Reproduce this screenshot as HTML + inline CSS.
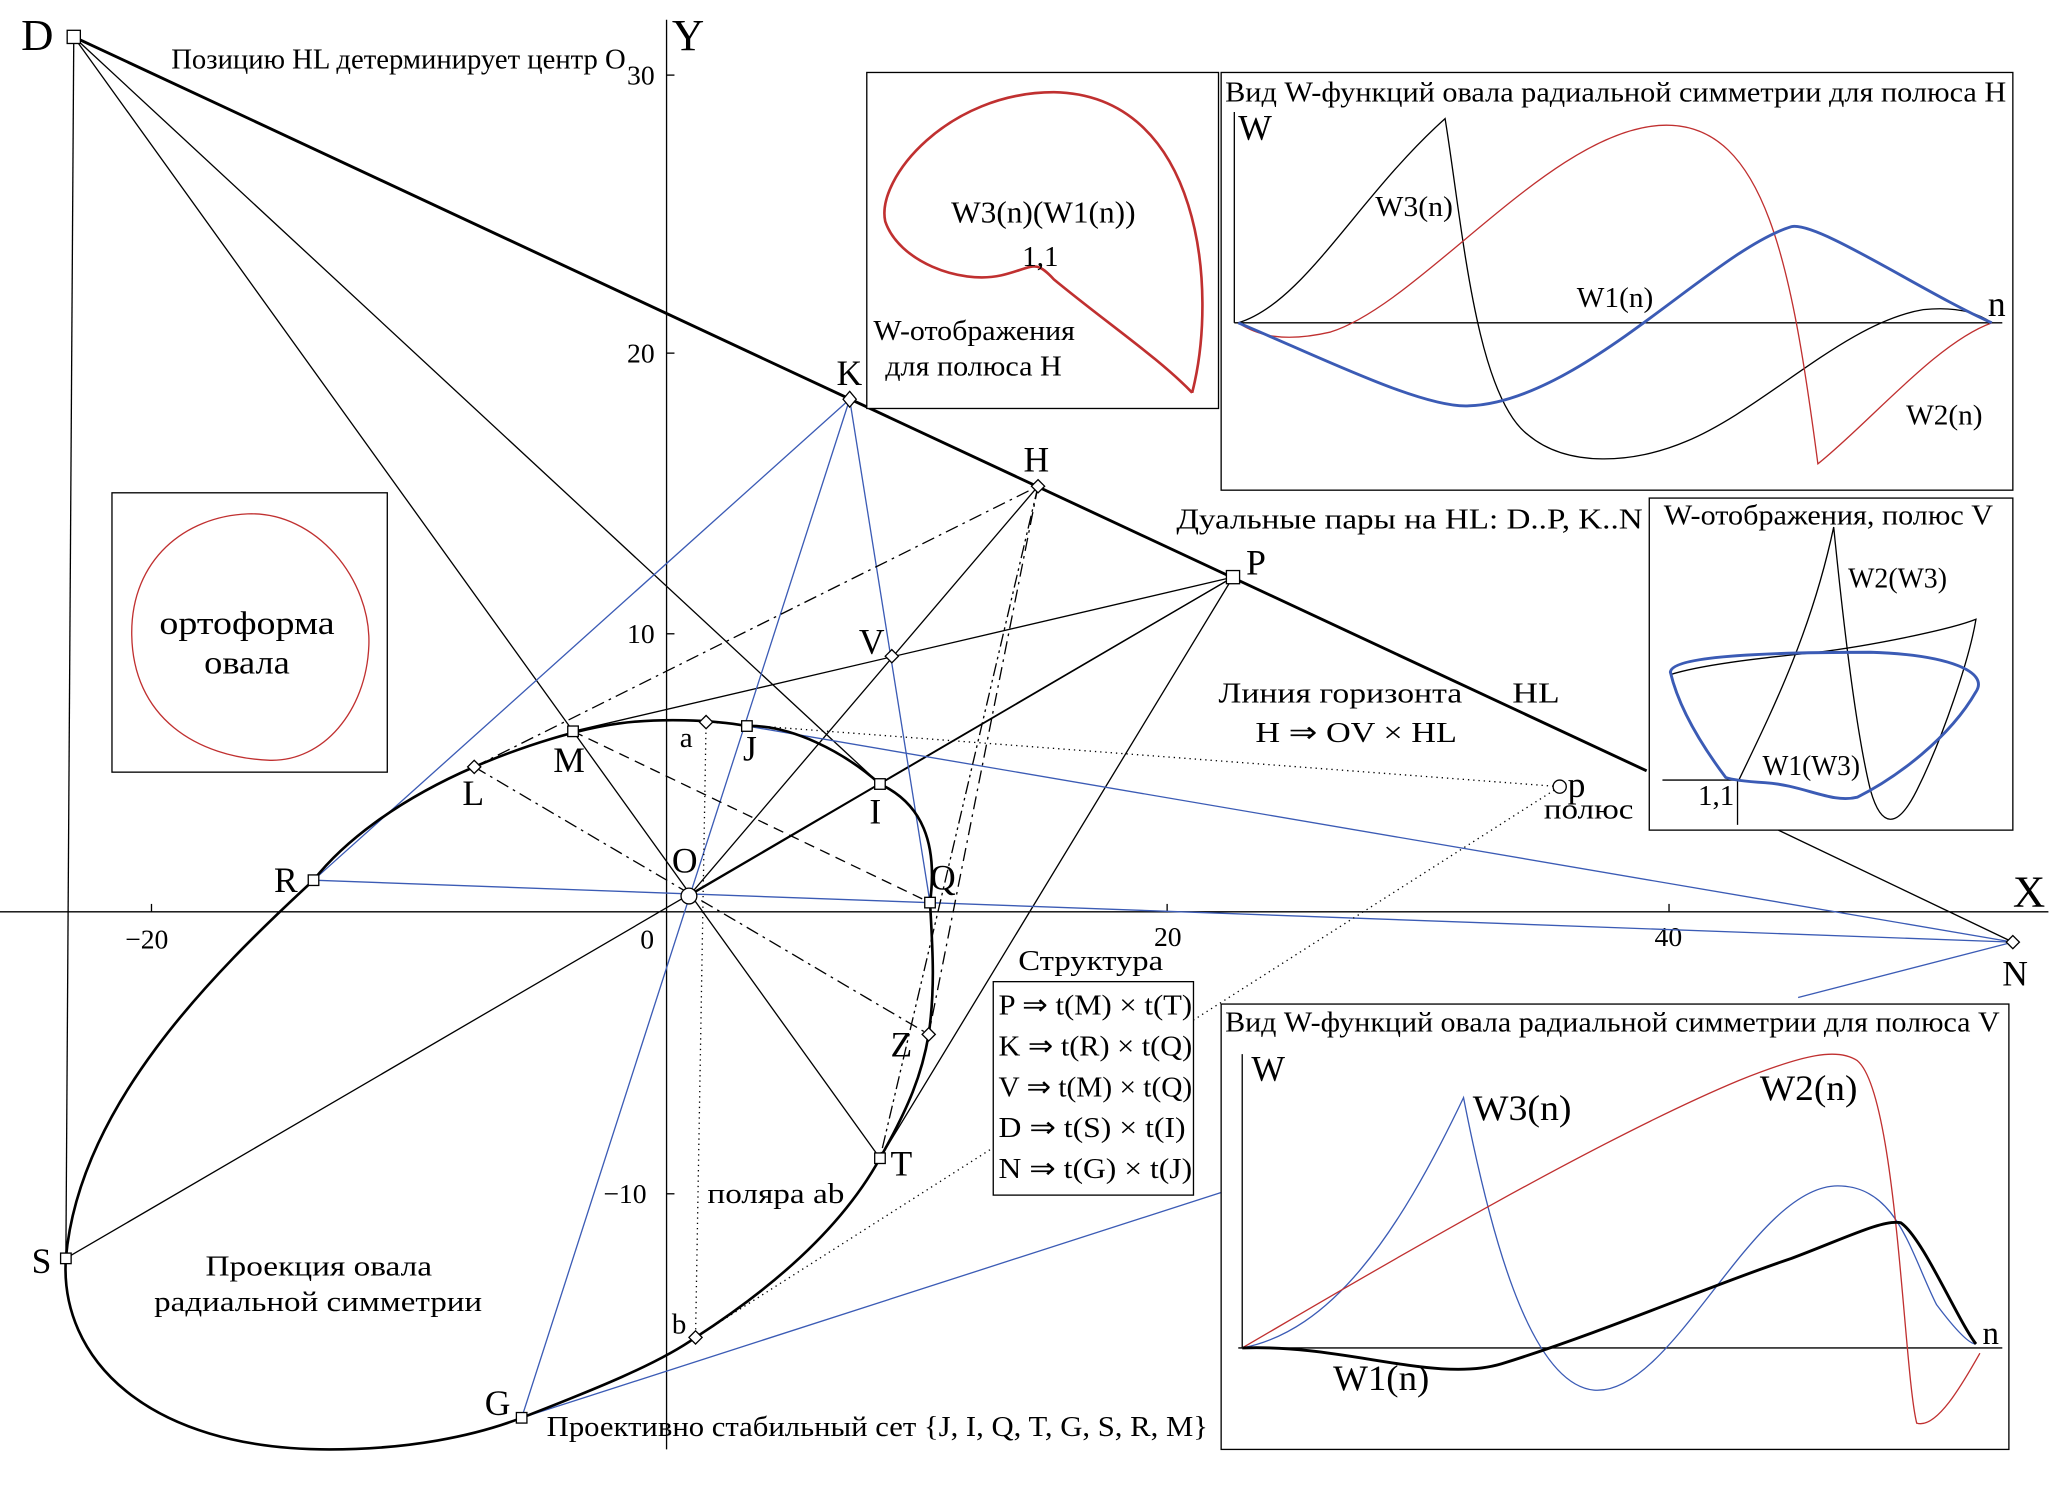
<!DOCTYPE html>
<html><head><meta charset="utf-8"><style>
html,body{margin:0;padding:0;background:#fff}
svg{display:block}
text{font-family:"Liberation Serif",serif;fill:#000}
</style></head><body>
<svg width="2055" height="1485" viewBox="0 0 1560 1127" preserveAspectRatio="none" xmlns="http://www.w3.org/2000/svg">
<rect width="1560" height="1127" fill="#fff"/>
<g stroke="#000" stroke-width="1" fill="none">
<line x1="0" y1="692" x2="1555" y2="692"/>
<line x1="506" y1="15" x2="506" y2="1100"/>
<line x1="115" y1="692" x2="115" y2="686"/><line x1="886" y1="692" x2="886" y2="686"/><line x1="1267" y1="692" x2="1267" y2="686"/>
<line x1="506" y1="57" x2="512" y2="57"/><line x1="506" y1="268" x2="512" y2="268"/><line x1="506" y1="481" x2="512" y2="481"/><line x1="506" y1="906" x2="512" y2="906"/>
</g>
<g font-size="21">
<text x="95" y="720">−20</text><text x="486" y="720">0</text><text x="876" y="718">20</text><text x="1256" y="718">40</text>
<text x="476" y="64">30</text><text x="476" y="275">20</text><text x="476" y="488">10</text><text x="458" y="913">−10</text>
</g>
<text x="1528" y="688" font-size="34">X</text>
<text x="510" y="38" font-size="34">Y</text>
<line x1="56" y1="28" x2="1250" y2="585" stroke="#000" stroke-width="2.2"/>
<line x1="1350" y1="630" x2="1528" y2="715" stroke="#000" stroke-width="1"/>
<g stroke="#000" stroke-width="1" fill="none">
<line x1="56" y1="28" x2="50" y2="955"/>
<line x1="56" y1="28" x2="435" y2="555"/>
<line x1="56" y1="28" x2="668" y2="595"/>
<line x1="50" y1="955" x2="936" y2="438"/>
<line x1="668" y1="879" x2="936" y2="438"/>
<line x1="435" y1="555" x2="936" y2="438"/>
<line x1="523" y1="680" x2="936" y2="438"/>
<line x1="523" y1="680" x2="788" y2="369"/>
<line x1="435" y1="555" x2="668" y2="879"/>
</g>
<g stroke="#3b5bb5" stroke-width="1" fill="none">
<line x1="645" y1="303" x2="706" y2="685"/>
<line x1="238" y1="668" x2="645" y2="303"/>
<line x1="396" y1="1076" x2="645" y2="303"/>
<line x1="238" y1="668" x2="1528" y2="715"/>
<line x1="567" y1="551" x2="1528" y2="715"/>
<line x1="396" y1="1076" x2="927" y2="905"/>
<line x1="1528" y1="715" x2="1365" y2="757"/>
</g>
<g stroke="#000" stroke-width="1" fill="none">
<line x1="360" y1="582" x2="788" y2="369" stroke-dasharray="10,4,2,4"/>
<line x1="788" y1="369" x2="705" y2="785" stroke-dasharray="10,4,2,4"/>
<line x1="788" y1="369" x2="668" y2="879" stroke-dasharray="10,3,2,3,2,3"/>
<line x1="360" y1="582" x2="705" y2="785" stroke-dasharray="10,4,2,4"/>
<line x1="435" y1="555" x2="706" y2="685" stroke-dasharray="8,5"/>
<line x1="536" y1="548" x2="528" y2="1015" stroke-dasharray="1,3"/>
<line x1="536" y1="548" x2="1184" y2="597" stroke-dasharray="1,3"/>
<line x1="528" y1="1015" x2="1184" y2="597" stroke-dasharray="1,3"/>
</g>
<path d="M706,685 C712,640 700,610 668,595 C640,570 600,550 567,551 C540,546 500,545 470,549 C440,553 400,565 360,582 C300,608 260,640 238,668 C160,740 60,840 50,955 C45,1030 110,1100 250,1100 C310,1100 360,1090 396,1076 C450,1055 500,1035 528,1015 C590,975 640,930 668,879 C690,840 700,815 705,785 C710,750 708,720 706,685 Z" fill="none" stroke="#000" stroke-width="2"/>
<g fill="#fff" stroke="#000" stroke-width="1">
<rect x="51" y="23" width="10" height="10"/>
<rect x="931" y="433" width="10" height="10"/>
<rect x="431" y="551" width="8" height="8"/>
<rect x="234" y="664" width="8" height="8"/>
<rect x="46" y="951" width="8" height="8"/>
<rect x="392" y="1072" width="8" height="8"/>
<rect x="664" y="875" width="8" height="8"/>
<rect x="702" y="681" width="8" height="8"/>
<rect x="664" y="591" width="8" height="8"/>
<rect x="563" y="547" width="8" height="8"/>
<path d="M645,297 l5,6 -5,6 -5,-6z"/>
<path d="M788,364 l5,5 -5,5 -5,-5z"/>
<path d="M677,493 l5,5 -5,5 -5,-5z"/>
<path d="M360,577 l5,5 -5,5 -5,-5z"/>
<path d="M536,543 l5,5 -5,5 -5,-5z"/>
<path d="M528,1010 l5,5 -5,5 -5,-5z"/>
<path d="M705,780 l5,5 -5,5 -5,-5z"/>
<path d="M1528,710 l5,5 -5,5 -5,-5z"/>
<circle cx="523" cy="680" r="6"/>
<circle cx="1184" cy="597" r="5"/>
</g>
<g font-size="27">
<text x="16" y="38" font-size="34">D</text>
<text x="635" y="292">K</text><text x="777" y="358">H</text><text x="946" y="436">P</text>
<text x="652" y="496">V</text><text x="420" y="586">M</text><text x="351" y="611">L</text>
<text x="208" y="677">R</text><text x="24" y="966">S</text><text x="368" y="1074">G</text>
<text x="676" y="892">T</text><text x="676" y="802">Z</text><text x="706" y="675">Q</text>
<text x="660" y="625">I</text><text x="564" y="577">J</text><text x="510" y="662">O</text>
<text x="1520" y="748">N</text><text x="1190" y="605">p</text>
</g>
<g font-size="22">
<text x="516" y="567">a</text><text x="510" y="1012">b</text>
<text x="130" y="52" textLength="345" lengthAdjust="spacingAndGlyphs">Позицию HL детерминирует центр O</text>
<text x="893" y="401" textLength="354" lengthAdjust="spacingAndGlyphs">Дуальные пары на HL: D..P, K..N</text>
<text x="925" y="533" textLength="185" lengthAdjust="spacingAndGlyphs">Линия горизонта</text><text x="1148" y="533" textLength="36" lengthAdjust="spacingAndGlyphs">HL</text>
<text x="953" y="563" textLength="153" lengthAdjust="spacingAndGlyphs">H ⇒ OV × HL</text>
<text x="1172" y="621" textLength="68" lengthAdjust="spacingAndGlyphs">полюс</text>
<text x="537" y="913" textLength="104" lengthAdjust="spacingAndGlyphs">поляра ab</text>
<text x="156" y="968" textLength="172" lengthAdjust="spacingAndGlyphs">Проекция овала</text>
<text x="117" y="995" textLength="249" lengthAdjust="spacingAndGlyphs">радиальной симметрии</text>
<text x="415" y="1090" textLength="502" lengthAdjust="spacingAndGlyphs">Проективно стабильный сет {J, I, Q, T, G, S, R, M}</text>
<text x="773" y="736" textLength="110" lengthAdjust="spacingAndGlyphs">Структура</text>
</g>
<rect x="754" y="745" width="152" height="162" fill="#fff" stroke="#000"/>
<g font-size="22">
<text x="758" y="770" textLength="147" lengthAdjust="spacingAndGlyphs">P ⇒ t(M) × t(T)</text>
<text x="758" y="801" textLength="147" lengthAdjust="spacingAndGlyphs">K ⇒ t(R) × t(Q)</text>
<text x="758" y="832" textLength="147" lengthAdjust="spacingAndGlyphs">V ⇒ t(M) × t(Q)</text>
<text x="758" y="863" textLength="142" lengthAdjust="spacingAndGlyphs">D ⇒ t(S) × t(I)</text>
<text x="758" y="894" textLength="147" lengthAdjust="spacingAndGlyphs">N ⇒ t(G) × t(J)</text>
</g>
<rect x="85" y="374" width="209" height="212" fill="#fff" stroke="#000"/>
<path d="M188,390 C240,388 282,440 280,490 C278,540 245,578 205,577 C150,575 100,545 100,480 C100,425 140,392 188,390 Z" fill="none" stroke="#c03030"/>
<text x="121" y="481" font-size="25" textLength="133" lengthAdjust="spacingAndGlyphs">ортоформа</text>
<text x="155" y="511" font-size="25" textLength="65" lengthAdjust="spacingAndGlyphs">овала</text>
<rect x="658" y="55" width="267" height="255" fill="#fff" stroke="#000"/>
<path d="M905,298 C925,220 912,72 800,70 C720,70 665,135 672,168 C682,198 728,216 760,209 C785,203 785,196 800,212 C840,245 880,272 905,298" fill="none" stroke="#c03030" stroke-width="2"/>
<text x="722" y="169" font-size="23" textLength="140" lengthAdjust="spacingAndGlyphs">W3(n)(W1(n))</text>
<text x="776" y="202" font-size="22">1,1</text>
<text x="663" y="258" font-size="22" textLength="153" lengthAdjust="spacingAndGlyphs">W-отображения</text>
<text x="672" y="285" font-size="22" textLength="134" lengthAdjust="spacingAndGlyphs">для полюса H</text>
<rect x="927" y="55" width="601" height="317" fill="#fff" stroke="#000"/>
<text x="930" y="77" font-size="22" textLength="593" lengthAdjust="spacingAndGlyphs">Вид W-функций овала радиальной симметрии для полюса H</text>
<text x="940" y="106" font-size="27">W</text>
<line x1="937" y1="85" x2="937" y2="245" stroke="#000"/>
<line x1="937" y1="245" x2="1520" y2="245" stroke="#000"/>
<text x="1509" y="240" font-size="27">n</text>
<path d="M940,245 C990,230 1030,150 1097,90 C1110,170 1120,300 1160,330 C1190,355 1240,352 1280,335 C1340,310 1400,245 1460,235 C1490,232 1505,240 1512,245" fill="none" stroke="#000"/>
<path d="M940,245 C955,255 975,260 1010,252 C1080,230 1180,95 1265,95 C1340,95 1360,200 1380,352 C1420,320 1470,260 1512,245" fill="none" stroke="#c03030"/>
<path d="M940,245 C1000,270 1080,310 1115,308 C1200,305 1300,190 1360,172 C1380,168 1460,222 1512,245" fill="none" stroke="#3b5bb5" stroke-width="2.2"/>
<text x="1044" y="164" font-size="22" textLength="59" lengthAdjust="spacingAndGlyphs">W3(n)</text>
<text x="1197" y="233" font-size="22" textLength="58" lengthAdjust="spacingAndGlyphs">W1(n)</text>
<text x="1447" y="322" font-size="22" textLength="58" lengthAdjust="spacingAndGlyphs">W2(n)</text>
<rect x="1252" y="378" width="276" height="252" fill="#fff" stroke="#000"/>
<text x="1263" y="398" font-size="22" textLength="250" lengthAdjust="spacingAndGlyphs">W-отображения, полюс V</text>
<line x1="1262" y1="592" x2="1320" y2="592" stroke="#000"/>
<line x1="1319" y1="592" x2="1319" y2="626" stroke="#000"/>
<text x="1289" y="611" font-size="22">1,1</text>
<path d="M1320,592 C1345,540 1375,480 1392,400 C1400,480 1410,560 1420,600 C1428,628 1440,630 1455,600 C1475,560 1495,500 1500,470 C1480,478 1420,490 1380,495 C1330,500 1290,505 1268,512" fill="none" stroke="#000"/>
<path d="M1310,590 C1295,570 1275,540 1268,510 C1270,497 1350,495 1420,495 C1480,497 1510,510 1500,525 C1480,560 1440,590 1410,605 C1390,610 1370,596 1340,594 C1325,593 1315,592 1310,590 Z" fill="none" stroke="#3b5bb5" stroke-width="2.2"/>
<text x="1403" y="446" font-size="22" textLength="75" lengthAdjust="spacingAndGlyphs">W2(W3)</text>
<text x="1338" y="588" font-size="22" textLength="74" lengthAdjust="spacingAndGlyphs">W1(W3)</text>
<rect x="927" y="762" width="598" height="338" fill="#fff" stroke="#000"/>
<text x="930" y="783" font-size="22" textLength="588" lengthAdjust="spacingAndGlyphs">Вид W-функций овала радиальной симметрии для полюса V</text>
<text x="950" y="820" font-size="27">W</text>
<line x1="943" y1="800" x2="943" y2="1023" stroke="#000"/>
<line x1="940" y1="1023" x2="1520" y2="1023" stroke="#000"/>
<text x="1505" y="1020" font-size="25">n</text>
<path d="M943,1023 C1010,1010 1060,940 1111,833 C1130,930 1160,1050 1210,1055 C1270,1060 1330,900 1395,900 C1440,900 1450,950 1470,990 C1485,1010 1495,1020 1500,1020" fill="none" stroke="#3b5bb5"/>
<path d="M943,1023 C1000,990 1200,870 1320,820 C1370,800 1395,795 1410,805 C1440,830 1445,1040 1455,1080 C1470,1085 1490,1050 1503,1027" fill="none" stroke="#c03030"/>
<path d="M943,1023 C1020,1020 1090,1050 1140,1035 C1220,1010 1300,975 1360,955 C1400,940 1430,925 1443,928 C1460,940 1485,1000 1500,1020" fill="none" stroke="#000" stroke-width="2.2"/>
<text x="1118" y="850" font-size="27" textLength="75" lengthAdjust="spacingAndGlyphs">W3(n)</text>
<text x="1336" y="835" font-size="27" textLength="74" lengthAdjust="spacingAndGlyphs">W2(n)</text>
<text x="1012" y="1055" font-size="27" textLength="73" lengthAdjust="spacingAndGlyphs">W1(n)</text>
</svg>
</body></html>
